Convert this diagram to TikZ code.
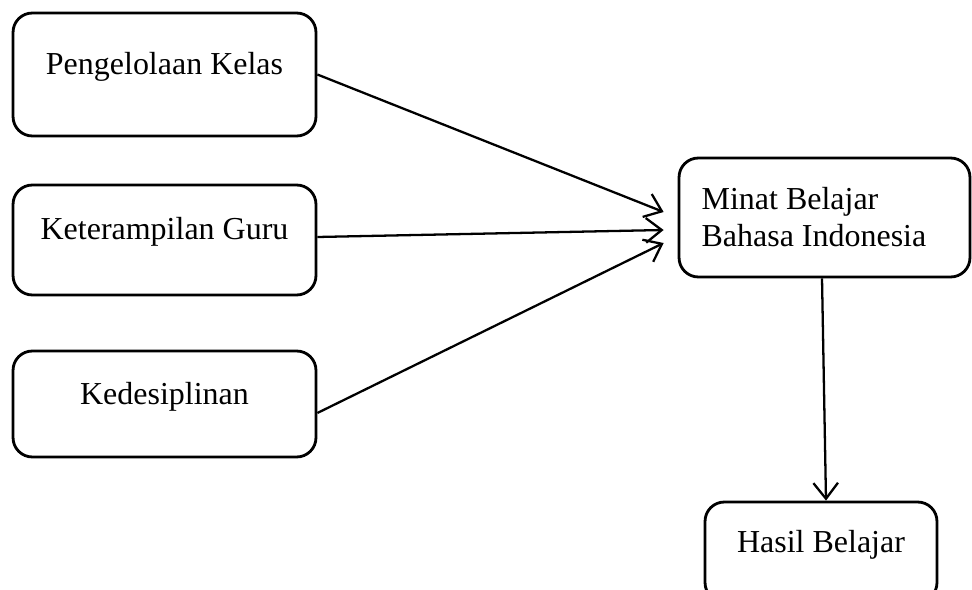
\documentclass[tikz,border=0pt]{standalone}
\usepackage{fontspec}
\setmainfont{Liberation Serif}
\usetikzlibrary{positioning, calc, arrows.meta}

\tikzset{
  kotak/.style={draw, line width=1.6pt, rounded corners=11pt, inner sep=0pt, align=left, font=\fontsize{18.2}{21}\selectfont},
  teksatas/.style={text height=12pt, text depth=12pt},
  panah/.style={line width=1.3pt, -{Straight Barb[length=9pt, width=14pt, line width=1.3pt]}}
}

\begin{document}
\begin{tikzpicture}[x=0.02cm, y=-0.02cm]
		
		\useasboundingbox (0,0) rectangle (972,590);
		
		%// variabel bebas
		\node [kotak, teksatas, minimum width=6.06cm, minimum height=2.46cm] (p1) at (164.5, 74.5) {Pengelolaan Kelas};
		\node [kotak, teksatas, minimum width=6.06cm, minimum height=2.2cm] (p2) at (164.5, 240) {Keterampilan Guru};
		\node [kotak, teksatas, minimum width=6.06cm, minimum height=2.12cm] (p3) at (164.5, 404) {Kedesiplinan};
		
		%// variabel antara dan terikat
		\node [kotak, minimum width=5.82cm, minimum height=2.38cm] (m) at (824.5, 217.5) {\hspace*{-12pt}Minat Belajar\\\hspace*{-12pt}Bahasa Indonesia};
		\node [kotak, teksatas, minimum width=4.64cm, minimum height=2cm] (h) at (821, 552) {Hasil Belajar};
		
		\draw [panah] (p1.east) -- ($(m.west)+(-14,-5.5)$);
		\draw [panah] ($(p2.east)+(0,-3)$) -- ($(m.west)+(-14,12.5)$);
		\draw [panah] ($(p3.east)+(0,9)$) -- ($(m.west)+(-14,25.5)$);
		\draw [panah] ($(m.south)+(-2.5,0)$) -- ($(h.north)+(5,0)$);
		\end{tikzpicture}
\end{document}
